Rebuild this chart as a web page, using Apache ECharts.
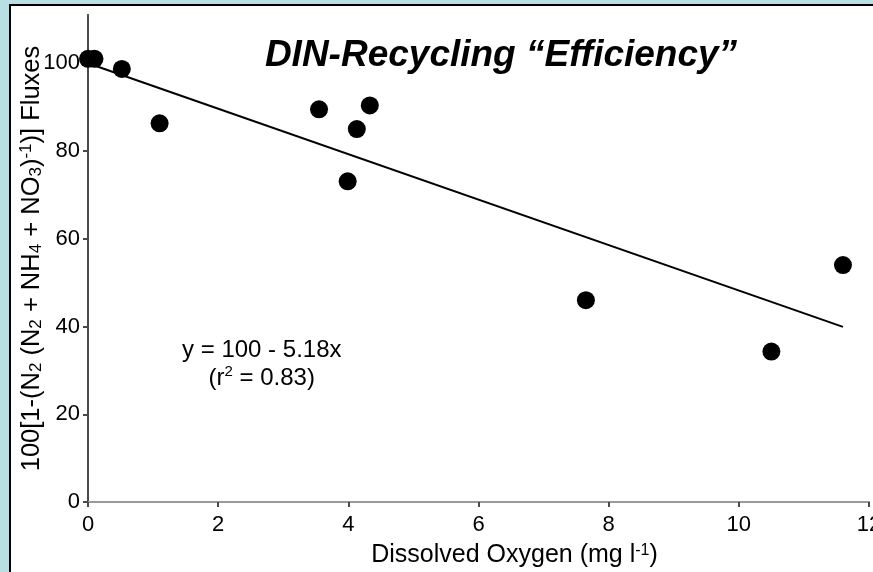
<!DOCTYPE html>
<html>
<head>
<meta charset="utf-8">
<script src="https://cdn.jsdelivr.net/npm/echarts@6/dist/echarts.min.js"></script>
<style>
  html, body { margin: 0; padding: 0; background: #badfe3; }
  #chart { width: 873px; height: 572px; }
</style>
</head>
<body>
<div id="chart"></div>
<script>
// Dissolved oxygen (mg l-1) and DIN recycling efficiency (%) per station
const oxygen     = [0.0, 0.1, 0.52, 1.1, 3.55, 3.99, 4.13, 4.33, 7.65, 10.5, 11.6];
const efficiency = [101, 101, 98.7, 86.3, 89.5, 73.1, 85.0, 90.4, 46.0, 34.3, 54.0];

// Least-squares fit reported on the figure
const fitIntercept = 100;
const fitSlope = -5.18;
const fitRange = [0, 11.6];

const xTicks = [0, 2, 4, 6, 8, 10, 12];
const yTicks = [0, 20, 40, 60, 80, 100];

const FONT = '"Liberation Sans", Arial, sans-serif';

const points = oxygen.map((x, i) => [x, efficiency[i]]);
const fitLine = fitRange.map(x => [x, fitIntercept + fitSlope * x]);

const chart = echarts.init(document.getElementById('chart'), null, { renderer: 'canvas' });

const axisGray = '#4a4a4a';

chart.setOption({
  backgroundColor: '#badfe3',
  animation: false,
  grid: { left: 88, right: 4, top: 15, bottom: 70, outerBoundsMode: 'none', containLabel: false },
  xAxis: [{
    type: 'value', min: 0, max: 12, interval: 2,
    axisLine: { show: true, onZero: false, lineStyle: { color: axisGray, width: 2 } },
    axisTick: { show: true, length: 5, customValues: xTicks, lineStyle: { color: axisGray, width: 2 } },
    axisLabel: { color: '#000', fontFamily: FONT, fontSize: 22, margin: 12, customValues: xTicks },
    splitLine: { show: false },
    name: 'Dissolved Oxygen (mg l{sup|-1})',
    nameLocation: 'middle', nameGap: 41, nameMoveOverlap: false,
    nameTextStyle: {
      color: '#000', fontFamily: FONT, fontSize: 25, padding: [0, 0, 0, 72],
      rich: { sup: { fontSize: 16, fontFamily: FONT, color: '#000', verticalAlign: 'top', lineHeight: 16 } }
    }
  }, {
    type: 'value', position: 'top', min: 0, max: 12,
    axisLine: { show: true, lineStyle: { color: '#9a9a9a', width: 2 } },
    axisTick: { show: false }, axisLabel: { show: false }, splitLine: { show: false }
  }],
  yAxis: [{
    type: 'value', min: 0, max: 111,
    axisLine: { show: true, onZero: false, lineStyle: { color: axisGray, width: 2 } },
    axisTick: { show: true, length: 5, customValues: yTicks, lineStyle: { color: axisGray, width: 2 } },
    axisLabel: { color: '#000', fontFamily: FONT, fontSize: 22, margin: 8, customValues: yTicks },
    splitLine: { show: false },
    name: '100[1-(N{sub|2} (N{sub|2} + NH{sub|4} + NO{sub|3}){sup|-1})] Fluxes',
    nameLocation: 'middle', nameGap: 43, nameRotate: 90, nameMoveOverlap: false,
    nameTextStyle: {
      color: '#000', fontFamily: FONT, fontSize: 25.5, lineHeight: 27,
      rich: {
        sub: { fontSize: 17, fontFamily: FONT, color: '#000', verticalAlign: 'bottom', lineHeight: 12 },
        sup: { fontSize: 17, fontFamily: FONT, color: '#000', verticalAlign: 'top', lineHeight: 14 }
      }
    }
  }, {
    type: 'value', position: 'right', min: 0, max: 111,
    axisLine: { show: true, lineStyle: { color: axisGray, width: 2 } },
    axisTick: { show: false }, axisLabel: { show: false }, splitLine: { show: false }
  }],
  series: [{
    type: 'line',
    data: fitLine,
    symbol: 'none',
    lineStyle: { color: '#000', width: 2 },
    z: 2
  }, {
    type: 'scatter',
    data: points,
    symbol: 'circle',
    symbolSize: 18,
    itemStyle: { color: '#000', opacity: 1 },
    z: 3
  }]
});

// Panel, title and fit annotation
const eqPos = chart.convertToPixel({ xAxisIndex: 0, yAxisIndex: 0 }, [2.67, 37.8]);
chart.setOption({
  graphic: [{
    type: 'rect', z: -10, silent: true,
    shape: { x: 10, y: 5, width: 900, height: 600 },
    style: { fill: '#fff', stroke: '#000', lineWidth: 2 }
  }, {
    type: 'text', z: 10,
    style: {
      x: 501, y: 56, text: 'DIN-Recycling \u201cEfficiency\u201d',
      fontFamily: FONT, fontSize: 37, fontWeight: 'bold', fontStyle: 'italic',
      fill: '#000', align: 'center', verticalAlign: 'middle'
    }
  }, {
    type: 'text', z: 10,
    style: {
      x: eqPos[0], y: eqPos[1],
      text: 'y = 100 - 5.18x\n(r{sup|2} = 0.83)',
      fontFamily: FONT, fontSize: 24, lineHeight: 28,
      fill: '#000', align: 'center', verticalAlign: 'top',
      rich: { sup: { fontSize: 15, fontFamily: FONT, fill: '#000', verticalAlign: 'top', lineHeight: 15 } }
    }
  }]
});
</script>
</body>
</html>
